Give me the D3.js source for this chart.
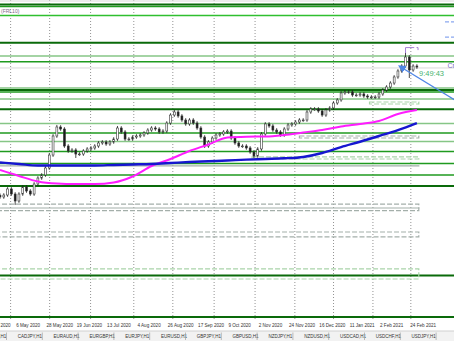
<!DOCTYPE html>
<html>
<head>
<meta charset="utf-8">
<script src="https://cdn.jsdelivr.net/npm/d3@7"></script>
<style>
  body { margin: 0; background: #fff; overflow: hidden; }
  svg { display: block; }
</style>
</head>
<body>
<div id="chart"></div>
<script>
// price samples, one every 2 daily bars (AUDJPY-like daily chart)
const closes = [
  68.61, 68.84, 69.56, 68.96, 68.13, 68.96, 69.79, 69.32, 68.96, 70.15,
  70.86, 71.22, 72.05, 73.59, 75.85, 76.92, 76.68, 74.66, 74.07, 74.19,
  73.71, 73.71, 74.07, 74.31, 74.43, 74.66, 75.02, 75.14, 74.90, 75.14,
  75.49, 76.80, 76.33, 75.49, 75.49, 75.73, 75.85, 75.97, 76.21, 76.56,
  76.80, 76.68, 76.33, 76.44, 77.39, 78.34, 78.70, 78.23, 77.75, 77.28,
  77.75, 77.39, 76.80, 75.73, 74.66, 75.14, 75.61, 75.97, 76.09, 76.33,
  76.44, 75.61, 75.02, 74.66, 74.66, 74.43, 73.95, 73.48, 74.31, 76.09,
  77.28, 77.04, 76.56, 76.33, 75.97, 76.68, 77.16, 77.28, 77.51, 77.75,
  77.75, 78.70, 79.06, 79.06, 78.82, 78.34, 78.94, 79.18, 79.77, 80.13,
  80.96, 81.08, 81.08, 80.72, 80.72, 80.84, 80.60, 80.48, 80.48, 80.48,
  80.84, 81.31, 81.67, 82.14, 82.86, 83.57, 84.16, 85.23, 83.69, 84.16,
  84.04
];
// a few long wicks: [sample index, extreme price]
const spikeHighs = [[15, 77.16], [31, 77.04], [46, 78.94], [107, 85.83]];
const spikeLows = [[4, 67.66], [20, 73.24], [54, 74.43], [67, 73.24], [108, 82.74]];

// moving averages, sampled every 5 samples
const maSlow = [
  71.81, 71.10, 70.45, 70.21, 70.15, 70.15, 70.33, 71.04, 72.29, 73.12,
  74.07, 74.84, 75.67, 75.77, 75.79, 75.97, 76.27, 76.56, 76.98, 77.28,
  77.63, 78.46, 78.94
];
const maLong = [
  72.70, 72.53, 72.35, 72.35, 72.35, 72.35, 72.41, 72.47, 72.53, 72.64,
  72.76, 72.85, 72.94, 73.04, 73.12, 73.20, 73.36, 73.83, 74.54, 75.17,
  75.85, 76.56, 77.39
];

// horizontal levels
const darkLevels = [91.47, 86.93, 81.31, 79.02, 69.91, 59.28, 54.36];
const midLevels = [91.23, 84.67, 81.08, 76.21, 74.01, 72.58, 71.22];
const lightLevels = [85.35, 81.55, 80.24, 77.33, 75.20];
const brightLevels = [90.16];
const greyLevels = [91.88, 83.93];

// dashed rectangles: [from sample, to sample, top price, bottom price]
const greyBoxes = [
  [-5, 110.5, 67.77, 67.00],
  [-5, 110.5, 67.30, 67.30],
  [-5, 110.5, 64.45, 63.86],
  [-5, 110.5, 72.30, 72.30],
  [79, 110.5, 75.85, 75.61]
];
const greenBoxes = [
  [-5, 110.5, 60.06, 58.87],
  [66.5, 110.5, 73.36, 73.12],
  [97.5, 110.5, 79.89, 79.65]
];

// trend line with arrow: [sample, price]
const arrowLine = [[106.6, 83.81], [120, 80.12]];

// time axis
const dateLabels = ["14 Apr 2020", "6 May 2020", "28 May 2020", "19 Jun 2020", "13 Jul 2020",
  "4 Aug 2020", "26 Aug 2020", "17 Sep 2020", "9 Oct 2020", "2 Nov 2020", "24 Nov 2020",
  "16 Dec 2020", "11 Jan 2021", "2 Feb 2021", "24 Feb 2021"];
const dateAt = [-4, 4, 12, 20, 28, 36, 44, 52, 60, 68, 76, 84, 92, 100, 108];
const monthGrid = [2.8, 13.1, 23.9, 35.3, 45.6, 56.5, 67.3, 77.8, 88, 98.4, 108.4];

const tabs = ["AUDJPY,H1", "CADJPY,H1", "EURAUD,H1", "EURGBP,H1", "EURJPY,H1", "EURUSD,H1",
  "GBPJPY,H1", "GBPUSD,H1", "NZDJPY,H1", "NZDUSD,H1", "USDCAD,H1", "USDCHF,H1", "USDJPY,H1"];

const W = 454, H = 341;
const plotH = 320;

const svg = d3.select("#chart").append("svg")
  .attr("width", W)
  .attr("height", H)
  .style("font-family", "'Liberation Sans', Arial, sans-serif");

const x = d3.scaleLinear().domain([0, 120]).range([0, 454.8]);
const y = d3.scaleLinear().domain([92, 92 - plotH * 0.11875]).range([0, plotH]);

const plot = svg.append("g");
plot.append("clipPath").attr("id", "clip")
  .append("rect").attr("width", W).attr("height", plotH);
const g = plot.append("g").attr("clip-path", "url(#clip)");

// month separators
g.selectAll(".vgrid").data(monthGrid).join("line")
  .attr("x1", d => x(d)).attr("x2", d => x(d))
  .attr("y1", 0).attr("y2", plotH)
  .attr("stroke", "#777").attr("stroke-width", 0.8)
  .attr("stroke-dasharray", "1,2");

function levels(arr, color, width) {
  g.append("g").selectAll("line").data(arr).join("line")
    .attr("x1", 0).attr("x2", W)
    .attr("y1", d => y(d)).attr("y2", d => y(d))
    .attr("stroke", color).attr("stroke-width", width);
}
levels(greyLevels, "#d8d8d8", 1);
levels(lightLevels, "#86c686", 1.4);
levels(midLevels, "#1f9a1f", 1.4);
levels(brightLevels, "#2fbf2f", 1.4);
levels(darkLevels, "#0a6a0a", 2);

function boxes(arr, color) {
  g.append("g").selectAll("rect").data(arr).join("rect")
    .attr("x", d => x(d[0])).attr("width", d => x(d[1]) - x(d[0]))
    .attr("y", d => y(d[2])).attr("height", d => Math.max(0.01, y(d[3]) - y(d[2])))
    .attr("fill", "none").attr("stroke", color).attr("stroke-width", 1.2)
    .attr("stroke-dasharray", "5,2");
}
boxes(greyBoxes, "#a4afaa");
boxes(greenBoxes, "#a9d4a9");

// candles
const bw = 1.9;
const candles = g.append("g");
closes.forEach((c, i) => {
  const o = i === 0 ? c + 0.2 : closes[i - 1];
  const yo = y(o), yc = y(c);
  let top = Math.min(yo, yc) - 1.8, bot = Math.max(yo, yc) + 1.8;
  const sh = spikeHighs.find(s => s[0] === i);
  const sl = spikeLows.find(s => s[0] === i);
  if (sh) top = y(sh[1]);
  if (sl) bot = y(sl[1]);
  candles.append("line")
    .attr("x1", x(i)).attr("x2", x(i)).attr("y1", top).attr("y2", bot)
    .attr("stroke", "#1a1a1a").attr("stroke-width", 0.8);
  candles.append("rect")
    .attr("x", x(i) - bw / 2).attr("width", bw)
    .attr("y", Math.min(yo, yc)).attr("height", Math.max(0.8, Math.abs(yc - yo)))
    .attr("fill", c >= o ? "#fff" : "#1a1a1a")
    .attr("stroke", "#333").attr("stroke-width", 0.6);
});

// moving averages
const maLine = d3.line().x((d, i) => x(i * 5)).y(d => y(d)).curve(d3.curveMonotoneX);
g.append("path").datum(maSlow).attr("d", maLine)
  .attr("fill", "none").attr("stroke", "#ff1cff").attr("stroke-width", 2);
g.append("path").datum(maLong).attr("d", maLine)
  .attr("fill", "none").attr("stroke", "#1616d0").attr("stroke-width", 2.4);

// trend line with arrow head
svg.append("defs").append("marker")
  .attr("id", "arr").attr("viewBox", "0 0 10 10")
  .attr("refX", 1).attr("refY", 5)
  .attr("markerWidth", 6).attr("markerHeight", 6)
  .attr("orient", "auto-start-reverse")
  .append("path").attr("d", "M0,0 L10,5 L0,10 z").attr("fill", "#4f86e6");
g.append("line")
  .attr("x1", x(arrowLine[0][0])).attr("y1", y(arrowLine[0][1]))
  .attr("x2", x(arrowLine[1][0])).attr("y2", y(arrowLine[1][1]))
  .attr("stroke", "#4f86e6").attr("stroke-width", 1.3)
  .attr("marker-start", "url(#arr)");

// small purple price label at the top
g.append("path")
  .attr("d", `M${x(107)},${y(85.7)} V${y(86.35)} H${x(109.3)} M${x(109.9)},${y(86.35)} H${x(110.3)} V${y(86.05)}`)
  .attr("fill", "none").attr("stroke", "#a57fd6").attr("stroke-width", 1);

// short blue dashes at the top right
g.append("g").selectAll("line").data([89.4, 87.6]).join("line")
  .attr("x1", 445).attr("x2", W)
  .attr("y1", d => y(d)).attr("y2", d => y(d))
  .attr("stroke", "#8aa8f0").attr("stroke-width", 1.2).attr("stroke-dasharray", "4,2");

// texts
svg.append("text").attr("x", 1).attr("y", 13)
  .attr("font-size", 5).attr("fill", "#7d6a8a").text("(FRL10)");
svg.append("text").attr("x", 419).attr("y", 76)
  .attr("font-size", 7.5).attr("fill", "#47b36f").text("9:49:43");
svg.append("text").attr("x", 447.5).attr("y", 67.5)
  .attr("font-size", 7).attr("fill", "#7e6ec8").text("Cr");

// time axis labels
svg.append("g").selectAll("text").data(dateLabels).join("text")
  .attr("x", (d, i) => x(dateAt[i]) + 1)
  .attr("y", 327)
  .attr("font-size", 4.6)
  .attr("fill", "#333")
  .text(d => d);

// tab bar
svg.append("rect").attr("x", 0).attr("y", 331).attr("width", W).attr("height", 10).attr("fill", "#f2f2f2");
svg.append("line").attr("x1", 0).attr("x2", W).attr("y1", 331).attr("y2", 331).attr("stroke", "#d0d0d0");
const tabX = d3.scaleLinear().domain([0, 1]).range([-24, 11.8]);
const tabG = svg.append("g").selectAll("g").data(tabs).join("g")
  .attr("transform", (d, i) => `translate(${tabX(i)},331)`);
tabG.append("text").attr("x", 6).attr("y", 7.2)
  .attr("font-size", 4.5).attr("fill", "#333").text(d => d);
tabG.append("line").attr("x1", 30.5).attr("x2", 30.5).attr("y1", 1.5).attr("y2", 9)
  .attr("stroke", "#aaa").attr("stroke-width", 0.8);
</script>
</body>
</html>
